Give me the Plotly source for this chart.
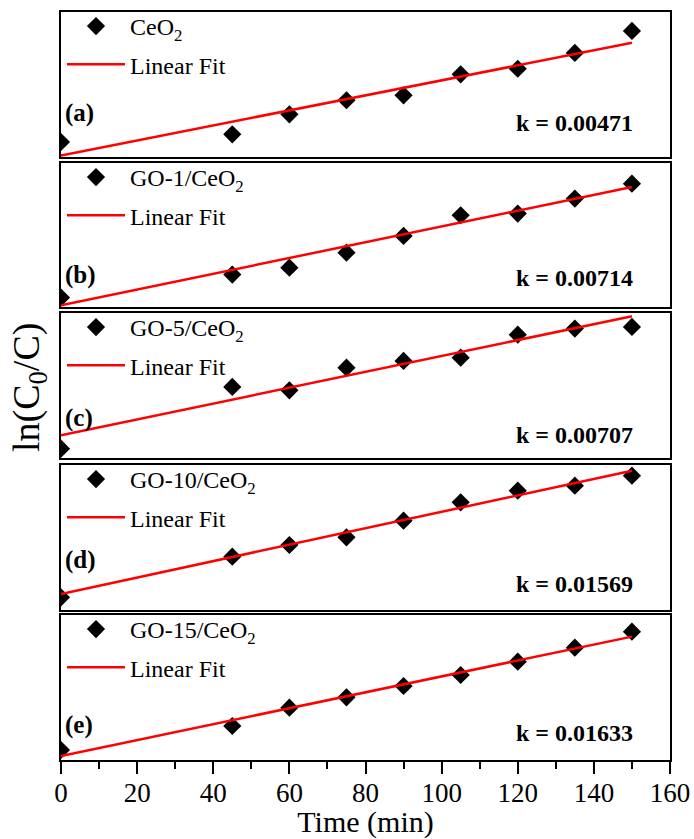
import plotly.graph_objects as go
from plotly.subplots import make_subplots

# Irradiation time (min)
times = [0, 45, 60, 75, 90, 105, 120, 135, 150]

# ln(C0/C) for each catalyst
ceo2 = [0, 0.048, 0.174, 0.262, 0.293, 0.425, 0.460, 0.559, 0.697]
go1_ceo2 = [0, 0.208, 0.271, 0.407, 0.558, 0.745, 0.760, 0.896, 1.031]
go5_ceo2 = [0, 0.550, 0.520, 0.722, 0.782, 0.811, 1.016, 1.070, 1.085]
go10_ceo2 = [0, 0.776, 0.998, 1.145, 1.463, 1.813, 2.035, 2.131, 2.322]
go15_ceo2 = [0, 0.493, 0.869, 1.081, 1.313, 1.539, 1.813, 2.100, 2.428]

sample_names = ["CeO<sub>2</sub>", "GO-1/CeO<sub>2</sub>", "GO-5/CeO<sub>2</sub>",
                "GO-10/CeO<sub>2</sub>", "GO-15/CeO<sub>2</sub>"]
panel_tags = ["(a)", "(b)", "(c)", "(d)", "(e)"]

# Linear fit parameters: rate constant k (slope) and intercept
rate_k = [0.00471, 0.00714, 0.00707, 0.01569, 0.01633]
fit_intercept = [-0.084, -0.070, 0.119, 0.063, -0.123]
fit_span = [0, 150]

# Per-panel y ranges
y_ranges = [[-0.094, 0.816], [-0.085, 1.218], [-0.083, 1.209],
            [-0.242, 2.525], [-0.205, 2.770]]

series = [ceo2, go1_ceo2, go5_ceo2, go10_ceo2, go15_ceo2]

FONT = "Liberation Serif, Times New Roman, serif"
W, H = 694, 839
ML, MR, MT, MB = 61, 24, 12, 79
plot_w = W - ML - MR
plot_h = H - MT - MB

# panel pixel extents (top, bottom)
panel_px = [(12, 157), (163, 307), (313, 458), (465, 610), (615, 760)]


def frac_y(py):
    return (H - MB - py) / plot_h


fig = make_subplots(rows=5, cols=1, shared_xaxes=True)

for i, (vals, name, k, b) in enumerate(zip(series, sample_names, rate_k, fit_intercept)):
    row = i + 1
    leg = "legend" if i == 0 else f"legend{i + 1}"
    fig.add_trace(go.Scatter(
        x=times, y=vals, mode="markers", name=name, legend=leg,
        legendgroup=f"data{i}",
        marker=dict(symbol="diamond", size=14, color="black"),
    ), row=row, col=1)
    fig.add_trace(go.Scatter(
        x=fit_span, y=[b + k * t for t in fit_span], mode="lines",
        name="Linear Fit", legend=leg, legendgroup=f"fit{i}",
        line=dict(color="#ff0000", width=2.5),
    ), row=row, col=1)

layout_legends = {}
for i, (top, bot) in enumerate(panel_px):
    key = "legend" if i == 0 else f"legend{i + 1}"
    layout_legends[key] = dict(
        x=(62 - ML) / plot_w, xanchor="left",
        y=frac_y(top - 8), yanchor="top",
        bgcolor="rgba(0,0,0,0)", borderwidth=0,
        font=dict(family=FONT, size=24, color="black"),
        itemwidth=58, tracegroupgap=4,
    )

fig.update_layout(
    width=W, height=H,
    margin=dict(l=ML, r=MR, t=MT, b=MB, autoexpand=False),
    paper_bgcolor="white", plot_bgcolor="white",
    font=dict(family=FONT, color="black"),
    showlegend=True,
    **layout_legends,
)

for i, (top, bot) in enumerate(panel_px):
    ax = "" if i == 0 else str(i + 1)
    fig.layout[f"yaxis{ax}"].update(
        domain=[frac_y(bot), frac_y(top)], range=y_ranges[i],
        showline=True, mirror=True, linecolor="black", linewidth=2,
        showgrid=False, zeroline=False, showticklabels=False, ticks="",
    )
    fig.layout[f"xaxis{ax}"].update(
        range=[0, 160], showline=True, mirror=True, linecolor="black",
        linewidth=2, showgrid=False, zeroline=False,
    )
    if i < 4:
        fig.layout[f"xaxis{ax}"].update(showticklabels=False, ticks="")

fig.update_xaxes(
    row=5, col=1,
    tickvals=list(range(0, 161, 20)), ticks="outside", ticklen=12,
    tickwidth=2, tickcolor="black", showticklabels=True,
    ticklabelstandoff=-4,
    tickfont=dict(family=FONT, size=27, color="black"),
    minor=dict(dtick=10, tick0=0, ticks="outside", ticklen=7, tickwidth=2,
               tickcolor="black", showgrid=False),
    title=dict(text="Time (min)", font=dict(family=FONT, size=30, color="black"),
               standoff=14),
)

# Panel tags and rate constants
tag_y = [0.303, 0.222, 0.276, 0.345, 0.241]
k_y = [0.234, 0.201, 0.159, 0.179, 0.186]
for i in range(5):
    ax = "" if i == 0 else str(i + 1)
    fig.add_annotation(
        xref=f"x{ax} domain", yref=f"y{ax} domain", x=0.9425, y=k_y[i],
        xanchor="right", yanchor="middle", showarrow=False,
        text=f"<b>k = {rate_k[i]:.5f}</b>",
        font=dict(family=FONT, size=24, color="black"),
    )
    fig.add_annotation(
        xref=f"x{ax} domain", yref=f"y{ax} domain", x=0.003, y=tag_y[i],
        xanchor="left", yanchor="middle", showarrow=False,
        text=f"<b>{panel_tags[i]}</b>",
        font=dict(family=FONT, size=25, color="black"),
    )

# Shared y-axis title
fig.add_annotation(
    xref="paper", yref="paper", x=(29 - ML) / plot_w, y=frac_y(388),
    xanchor="center", yanchor="middle", showarrow=False, textangle=-90,
    text="ln(C<sub>0</sub>/C)",
    font=dict(family=FONT, size=38, color="black"),
)

fig.write_html("out.html")
